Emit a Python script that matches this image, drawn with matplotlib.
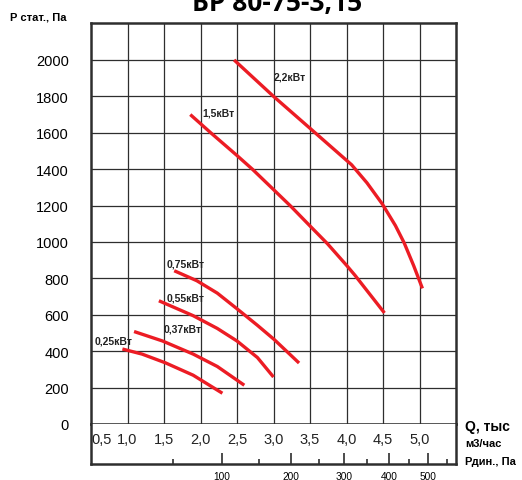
import numpy as np
import matplotlib.pyplot as plt

plt.rcParams['font.family'] = ['Liberation Sans', 'DejaVu Sans']

# fan curves: Q (thousand m3/h) vs static pressure (Pa)
q_025 = [0.93, 1.20, 1.52, 1.90, 2.30]
p_025 = [412, 384, 336, 268, 169]

q_037 = [1.09, 1.48, 1.90, 2.23, 2.60]
p_037 = [508, 456, 384, 316, 213]

q_055 = [1.43, 1.90, 2.23, 2.50, 2.78, 3.00]
p_055 = [677, 595, 525, 456, 365, 258]

q_075 = [1.64, 1.95, 2.23, 2.50, 2.78, 3.01, 3.35]
p_075 = [842, 787, 719, 633, 542, 464, 335]

q_15 = [1.86, 2.14, 2.50, 2.71, 3.00, 3.24, 3.50, 3.74, 4.00, 4.12, 4.52]
p_15 = [1700, 1600, 1475, 1400, 1288, 1195, 1088, 990, 872, 815, 610]

q_22 = [2.46, 3.00, 3.51, 4.07, 4.28, 4.49, 4.67, 4.79, 4.92, 5.04]
p_22 = [2000, 1800, 1621, 1424, 1325, 1209, 1090, 995, 870, 745]

curves = [(q_025, p_025), (q_037, p_037), (q_055, p_055),
          (q_075, p_075), (q_15, p_15), (q_22, p_22)]

power_labels = ['0,25кВт', '0,37кВт', '0,55кВт', '0,75кВт', '1,5кВт', '2,2кВт']
label_q = [0.55, 1.49, 1.53, 1.53, 2.02, 3.00]
label_p = [456, 525, 697, 880, 1714, 1910]

q_ticks = [0.5, 1.0, 1.5, 2.0, 2.5, 3.0, 3.5, 4.0, 4.5, 5.0]
q_tick_labels = ['0,5', '1,0', '1,5', '2,0', '2,5', '3,0', '3,5', '4,0', '4,5', '5,0']
p_ticks = [0, 200, 400, 600, 800, 1000, 1200, 1400, 1600, 1800, 2000]
pd_major = [100, 200, 300, 400, 500]
pd_minor = [50, 150, 250, 350, 450, 550]

# dynamic pressure Pd = K * Q^2
K = 19.05

line_col = '#2e2e2e'
red = '#ec1c24'

fig = plt.figure(figsize=(5.22, 4.81), dpi=100)
ax = fig.add_axes([91 / 522, 56 / 481, 365 / 522, 401 / 481])
ax2 = fig.add_axes([91 / 522, 16 / 481, 365 / 522, 40 / 481])

ax.set_xlim(0.5, 5.5)
ax.set_ylim(0, 2203)
ax.set_xticks(q_ticks[1:])
ax.set_xticklabels([])
ax.set_yticks(p_ticks)
ax.set_yticklabels([str(p) for p in p_ticks])
ax.tick_params(length=0, labelsize=10.5, pad=16)
ax.grid(True, color=line_col, lw=0.9)
ax.set_axisbelow(True)
for s in ax.spines.values():
    s.set_color(line_col)
    s.set_linewidth(1.8)

for (q, p) in curves:
    ax.plot(q, p, color=red, lw=2.4, solid_capstyle='butt',
            solid_joinstyle='round', zorder=3)

for txt, x, y in zip(power_labels, label_q, label_p):
    ax.text(x, y, txt, fontsize=7.5, fontweight='bold', ha='left', va='center',
            color='#222222', zorder=4)

# lower strip: Q labels and dynamic pressure scale
ax2.set_xlim(0.5, 5.5)
ax2.set_ylim(0, 1)
ax2.set_xticks([])
ax2.set_yticks([])
ax2.spines['top'].set_visible(False)
for s in ['left', 'right', 'bottom']:
    ax2.spines[s].set_color(line_col)
    ax2.spines[s].set_linewidth(1.8)

for q, lab in zip(q_ticks, q_tick_labels):
    ha = 'left' if q == 0.5 else 'center'
    ax2.text(q + (0.01 if q == 0.5 else 0), 0.62, lab, fontsize=10.5,
             ha=ha, va='center', color='#222222')

sec = ax2.secondary_xaxis(0, functions=(lambda q: K * np.asarray(q) ** 2,
                                        lambda p: np.sqrt(np.clip(p, 0, None) / K)))
sec.set_xticks(pd_major)
sec.set_xticks(pd_minor, minor=True)
sec.set_xticklabels([str(v) for v in pd_major])
sec.tick_params(which='major', direction='in', length=8, width=1.2,
                color=line_col, labelsize=7.3, pad=5)
sec.tick_params(which='minor', direction='in', length=3.5, width=1.2, color=line_col)
sec.spines['bottom'].set_visible(False)

# titles and axis captions
fig.text(277 / 522, 1 - 11 / 481, 'БР 80-75-3,15', fontsize=19, fontweight='bold',
         family=['Open Sans', 'DejaVu Sans'], ha='center', va='baseline')
fig.text(10 / 522, 1 - 18 / 481, 'Р стат., Па', fontsize=8, fontweight='bold',
         ha='left', va='center')
fig.text(465 / 522, 1 - 427 / 481, 'Q, тыс', fontsize=10, fontweight='bold',
         ha='left', va='center')
fig.text(465 / 522, 1 - 444 / 481, 'м3/час', fontsize=8, fontweight='bold',
         ha='left', va='center')
fig.text(465 / 522, 1 - 462 / 481, 'Рдин., Па', fontsize=8, fontweight='bold',
         ha='left', va='center')

fig.savefig('out.png', dpi=100)
